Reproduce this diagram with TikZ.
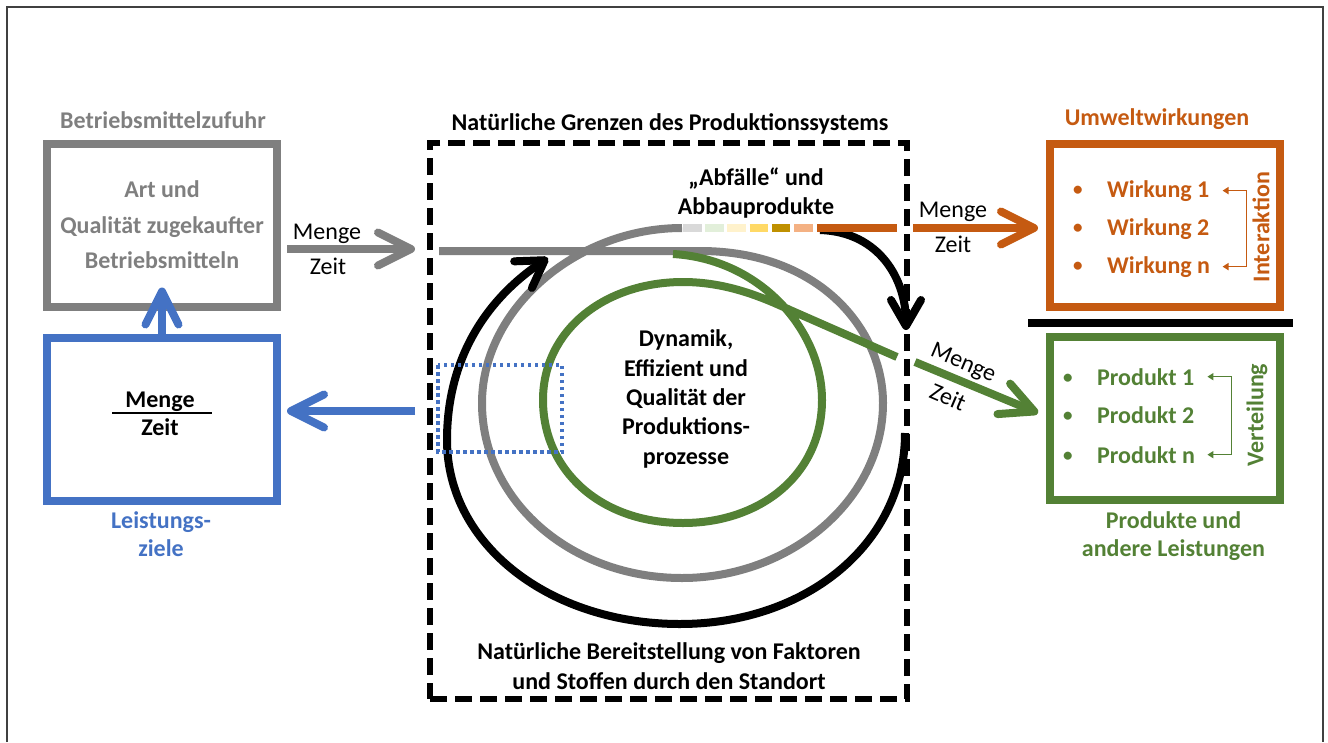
\documentclass[tikz,border=0pt]{standalone}
\usepackage{fontspec}
\setmainfont{Carlito}
\usetikzlibrary{arrows.meta,positioning}

\definecolor{zgray}{HTML}{7F7F7F}
\definecolor{zblue}{HTML}{4472C4}
\definecolor{zorange}{HTML}{C55A11}
\definecolor{zgreen}{HTML}{538135}
\definecolor{abf1}{HTML}{D9D9D9}
\definecolor{abf2}{HTML}{E2EFDA}
\definecolor{abf3}{HTML}{FFF2CC}
\definecolor{abf4}{HTML}{FFD966}
\definecolor{abf5}{HTML}{BF9000}
\definecolor{abf6}{HTML}{F4B183}

\newcommand{\punkt}{\makebox[34pt][l]{\fontsize{19}{20}\selectfont\raisebox{1.5pt}{\textbullet}}}

\begin{document}
\begin{tikzpicture}[x=1pt, y=-1pt,
    every node/.style={inner sep=0pt, font=\fontsize{24}{29}\selectfont\bfseries},
    kasten/.style={draw, line width=8pt, minimum width=230pt, minimum height=163pt},
    pfeil/.style={line width=8pt, -{Straight Barb[length=33pt, width=33pt, round]}},
    spirale/.style={line width=8pt},
    menge/.style={font=\fontsize{24}{29}\selectfont, anchor=base},
    klammer/.style={line width=1.5pt, {Triangle[length=6pt, width=7pt]}-{Triangle[length=6pt, width=7pt]}}]
    \useasboundingbox (0,0) rectangle (1328,742);
    \draw[line width=1.5pt, black!75] (7,742) -- (7,7) -- (1323,7) -- (1323,742);

    % Betriebsmittel und Leistungsziele
    \node[kasten, draw=zgray, text=zgray, align=center] (zufuhr) at (162,225) {Art und\\[6.5pt]Qualität zugekaufter\\[6.5pt]Betriebsmitteln};
    \node[anchor=base, text=zgray] (zufuhrtitel) at (163,128) {Betriebsmittelzufuhr};
    \node[kasten, draw=zblue] (ziele) at (162,419.5) {};
    \node[anchor=base] (bruchoben) at (160,407) {Menge};
    \node[anchor=base] (bruchunten) at (160,435) {Zeit};
    \draw[line width=1.5pt] (112,413) -- (212,413);
    \node[text=zblue, align=center, font=\fontsize{24}{28}\selectfont\bfseries] (zieletitel) at (161,534) {Leistungs-\\ziele};

    % Grenzen des Produktionssystems
    \node[draw, line width=6pt, dash pattern=on 17pt off 8pt, minimum width=477pt, minimum height=556pt] (grenze) at (668.5,421) {};
    \node[anchor=base] (grenzetitel) at (670,130) {Natürliche Grenzen des Produktionssystems};
    \node[align=center, font=\fontsize{24}{30}\selectfont\bfseries] (standort) at (669,666) {Natürliche Bereitstellung von Faktoren\\und Stoffen durch den Standort};

    % Spiralen
    \draw[spirale, zgray] (439,251) -- (700,251) .. controls (820,251) and (883,330) .. (883,403)
        .. controls (883,500) and (790,578) .. (682,578) .. controls (570,578) and (482,500) .. (482,403)
        .. controls (482,310) and (575,228) .. (682,228);
    \draw[spirale, zgreen] (673,254) .. controls (760,259) and (822,330) .. (822,400)
        .. controls (822,475) and (760,523) .. (683,523) .. controls (600,523) and (543,470) .. (543,400)
        .. controls (543,330) and (605,282) .. (683,282) .. controls (725,282) and (760,296) .. (790,310) -- (897,357);
    \draw[spirale, -{Straight Barb[length=26pt, width=32pt, round]}] (905,433) .. controls (905,545) and (805,624) .. (680,624)
        .. controls (550,624) and (447,545) .. (447,440) .. controls (447,360) and (485,300) .. (548,258);
    \draw[spirale, -{Straight Barb[length=26pt, width=30pt, round]}] (820,230) .. controls (880,232) and (906,280) .. (906,330);

    % Abfaelle
    \foreach \farbe [count=\i from 0] in {abf1,abf2,abf3,abf4,abf5,abf6}
        \draw[line width=8pt, \farbe] (683+\i*22.2,228) -- ++(18.5,0);
    \draw[line width=8pt, zorange] (817,228) -- (897,228);
    \node[align=center, font=\fontsize{24}{29}\selectfont\bfseries] (abfall) at (756,193) {„Abfälle“ und\\Abbauprodukte};
    \node[align=center, font=\fontsize{24}{29.3}\selectfont\bfseries] (prozess) at (686,399) {Dynamik,\\Effizient und\\Qualität der\\Produktions-\\prozesse};
    \draw[zblue, line width=3.5pt, dash pattern=on 3.5pt off 3.5pt] (438,365) rectangle (562,452);

    % Umweltwirkungen und Produkte
    \node[kasten, draw=zorange] (wirkungen) at (1165,225.5) {};
    \node[anchor=base, text=zorange] (wirkungentitel) at (1157,125) {Umweltwirkungen};
    \node[anchor=base west, text=zorange] (w1) at (1073,197) {\punkt Wirkung 1};
    \node[anchor=base west, text=zorange] (w2) at (1073,235) {\punkt Wirkung 2};
    \node[anchor=base west, text=zorange] (wn) at (1073,273) {\punkt Wirkung n};
    \draw[klammer, zorange] ([xshift=13pt]w1.east) -| ([xshift=37pt]w1.east |- wn.east) -- ([xshift=13pt]w1.east |- wn.east);
    \node[rotate=90, text=zorange] (interaktion) at (1261,227) {Interaktion};

    \draw[line width=8pt] (1028,323) -- (1293,323);

    \node[kasten, draw=zgreen] (produkte) at (1165,418.5) {};
    \node[align=center, text=zgreen, font=\fontsize{24}{28}\selectfont\bfseries] (produktetitel) at (1173.5,536) {Produkte und\\andere Leistungen};
    \node[anchor=base west, text=zgreen] (p1) at (1063,385) {\punkt Produkt 1};
    \node[anchor=base west, text=zgreen] (p2) at (1063,423) {\punkt Produkt 2};
    \node[anchor=base west, text=zgreen] (pn) at (1063,463) {\punkt Produkt n};
    \draw[klammer, zgreen] ([xshift=13pt]p1.east) -| ([xshift=37pt]p1.east |- pn.east) -- ([xshift=13pt]p1.east |- pn.east);
    \node[rotate=90, text=zgreen] (verteilung) at (1257,415) {Verteilung};

    % Pfeile
    \coordinate (grauende) at (415,249);
    \coordinate (blaustart) at (415,411);
    \coordinate (orangestart) at (913,228);
    \coordinate (gruenstart) at (915,362);
    \draw[pfeil, zgray] ([xshift=6pt, yshift=-24pt]zufuhr.east) -- (grauende);
    \node[menge] (menge1) at (327,239) {Menge};
    \node[menge] (zeit1) at (328,274) {Zeit};
    \draw[pfeil, zblue] (blaustart) -- ([xshift=6pt, yshift=8.5pt]ziele.east);
    \draw[pfeil, zblue] (ziele.north) -- ([yshift=23pt]zufuhr.south);
    \draw[pfeil, zorange] (orangestart) -- ([xshift=-8pt, yshift=-2.5pt]wirkungen.west);
    \node[menge] (menge2) at (953,217) {Menge};
    \node[menge] (zeit2) at (953,252) {Zeit};
    \draw[pfeil, zgreen] (gruenstart) -- ([xshift=-8pt, yshift=5.5pt]produkte.west);
    \node[rotate=-23, font=\fontsize{24}{29}\selectfont] (menge3) at (963,364) {Menge};
    \node[rotate=-23, font=\fontsize{24}{29}\selectfont] (zeit3) at (948,397) {Zeit};
\end{tikzpicture}
\end{document}
